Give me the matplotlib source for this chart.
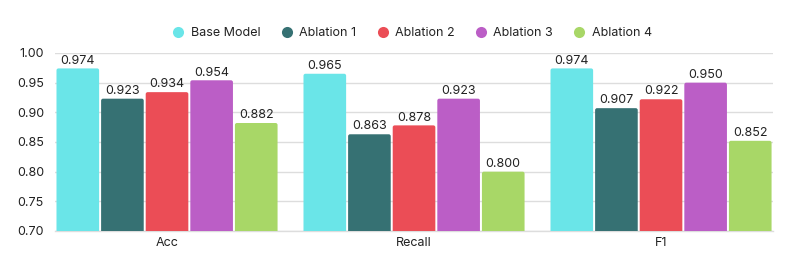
import matplotlib
matplotlib.use("Agg")
import matplotlib.pyplot as plt
from matplotlib.patches import FancyBboxPatch
from matplotlib.lines import Line2D
import numpy as np

plt.rcParams['font.family'] = ['Inter', 'DejaVu Sans']

categories = ["Acc", "Recall", "F1"]
series_names = ["Base Model", "Ablation 1", "Ablation 2", "Ablation 3", "Ablation 4"]
base_model = [0.974, 0.965, 0.974]
ablation1 = [0.923, 0.863, 0.907]
ablation2 = [0.934, 0.878, 0.922]
ablation3 = [0.954, 0.923, 0.950]
ablation4 = [0.882, 0.800, 0.852]
series_values = [base_model, ablation1, ablation2, ablation3, ablation4]
colors = ["#6ae5e8", "#367173", "#eb4d56", "#bb5ec6", "#a8d767"]
yticks = [0.70, 0.75, 0.80, 0.85, 0.90, 0.95, 1.00]

fig = plt.figure(figsize=(7.93, 2.66), dpi=100)
ax = fig.add_axes([0.0694, 0.1316, 0.9054, 0.6692])

n = len(series_names)
group_w = 0.903
bw = group_w / n
x = np.arange(len(categories))
ymin = 0.70
for i, (name, vals, c) in enumerate(zip(series_names, series_values, colors)):
    offs = -group_w / 2 + bw * (i + 0.5)
    for xi, v in zip(x, vals):
        left = xi + offs - bw / 2 + 0.004
        w = bw - 0.008
        p = FancyBboxPatch((left, ymin - 0.02), w, v - ymin + 0.02,
                           boxstyle="round,pad=0,rounding_size=0.008",
                           mutation_aspect=0.42, facecolor=c, edgecolor='none',
                           zorder=3, clip_on=True)
        ax.add_patch(p)
        ax.text(xi + offs, v + 0.003, f"{v:.3f}", ha='center', va='bottom',
                fontsize=9, color='#222222', zorder=4)

ax.set_xlim(-0.4534, 2.4534)
ax.set_ylim(0.70, 1.00)
ax.set_yticks(yticks)
ax.set_yticklabels([f"{t:.2f}" for t in yticks], fontsize=9, color='#222222')
ax.set_xticks(x)
ax.set_xticklabels(categories, fontsize=9, color='#222222')
ax.tick_params(axis='both', length=0, pad=4)
ax.tick_params(axis='y', pad=8)
ax.grid(axis='y', color='#dddddd', linewidth=1, zorder=0)
ax.set_axisbelow(True)
for s in ['top', 'right', 'left']:
    ax.spines[s].set_visible(False)
ax.spines['bottom'].set_color('#dddddd')
ax.spines['bottom'].set_linewidth(1)

handles = [Line2D([0], [0], marker='o', linestyle='none', markersize=8,
                  markerfacecolor=c, markeredgecolor='none') for c in colors]
fig.legend(handles, series_names, loc='center', bbox_to_anchor=(0.518, 0.876),
           ncol=5, frameon=False, fontsize=9, handletextpad=0.3,
           columnspacing=1.4, handlelength=1.4, labelcolor='#222222')

fig.savefig("out.png", dpi=100, facecolor='white')
